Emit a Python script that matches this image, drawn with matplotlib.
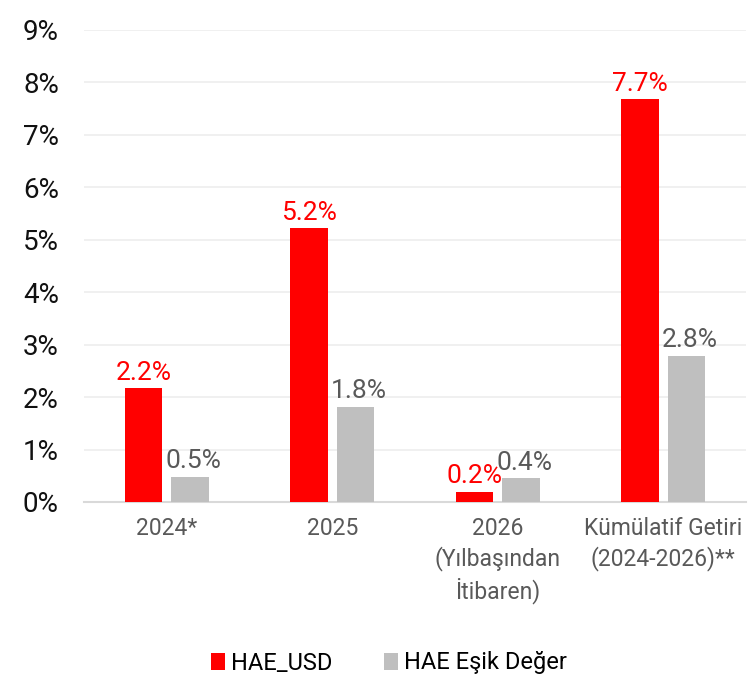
import numpy as np
import matplotlib
matplotlib.use("Agg")
import matplotlib.pyplot as plt
from matplotlib.ticker import FuncFormatter

# ------------------------------
# Daten
# ------------------------------
kategorien = ["2024*", "2025", "2026\n(Yılbaşından\nİtibaren)", "Kümülatif Getiri\n(2024-2026)**"]
hae_usd = [2.17, 5.22, 0.19, 7.68]
hae_esik = [0.48, 1.82, 0.45, 2.79]
etiket_usd = ["2.2%", "5.2%", "0.2%", "7.7%"]
etiket_esik = ["0.5%", "1.8%", "0.4%", "2.8%"]
seri_adlari = ["HAE_USD", "HAE Eşik Değer"]

plt.rcParams['font.family'] = ['Roboto', 'DejaVu Sans']

kirmizi = "#FF0000"
gri = "#BFBFBF"

fig = plt.figure(figsize=(7.48, 6.82), dpi=100)
ax = fig.add_axes([84 / 748, 1 - 502 / 682, 662 / 748, 472 / 682])

x = np.arange(len(kategorien))
w = 0.225
off = 0.14

b1 = ax.bar(x - off, hae_usd, w, color=kirmizi, label=seri_adlari[0], zorder=3)
b2 = ax.bar(x + off, hae_esik, w, color=gri, label=seri_adlari[1], zorder=3)

for rect, txt in zip(b1, etiket_usd):
    ax.text(rect.get_x() + rect.get_width() / 2, rect.get_height() + 0.07, txt,
            ha='center', va='bottom', color=kirmizi, fontsize=19)
for rect, txt in zip(b2, etiket_esik):
    ax.text(rect.get_x() + rect.get_width() / 2 + 0.02, rect.get_height() + 0.07, txt,
            ha='center', va='bottom', color="#595959", fontsize=19)

ax.set_xlim(-0.5, len(kategorien) - 0.5)
ax.set_ylim(0, 9)
ax.set_yticks(range(10))
ax.yaxis.set_major_formatter(FuncFormatter(lambda v, p: f"{v:.0f}%"))
ax.tick_params(axis='y', length=0, labelsize=20, pad=18, labelcolor="#111111")
ax.tick_params(axis='x', length=0, labelsize=16.5, pad=11, labelcolor="#595959")
ax.set_xticks(x)
ax.set_xticklabels(kategorien, linespacing=1.3)

ax.grid(axis='y', color="#EEEEEE", linewidth=1.2, zorder=0)
for s in ['top', 'right', 'left']:
    ax.spines[s].set_visible(False)
ax.spines['bottom'].set_color("#D9D9D9")
ax.spines['bottom'].set_linewidth(1.5)

fig.legend(handles=[b1, b2], labels=seri_adlari, loc='center', bbox_to_anchor=(389 / 748, 1 - 663 / 682),
           ncol=2, frameon=False, fontsize=17, handlelength=0.6, handleheight=0.75,
           handletextpad=0.25, columnspacing=2.2)

fig.savefig("out.png", dpi=100)
